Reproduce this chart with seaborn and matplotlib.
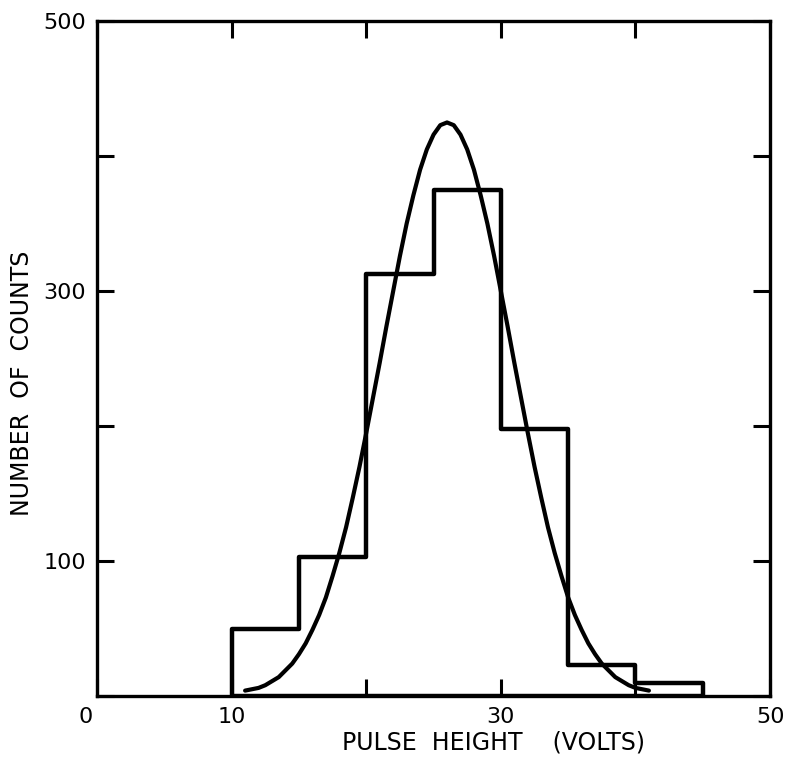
import numpy as np
import pandas as pd
import seaborn as sns
import matplotlib
matplotlib.use("Agg")
import matplotlib.pyplot as plt
import matplotlib.transforms as mtransforms

# histogram of pulse heights (bin centres, counts per 5 V bin)
bin_edges = [10, 15, 20, 25, 30, 35, 40, 45]
bin_centers = [12.5, 17.5, 22.5, 27.5, 32.5, 37.5, 42.5]
counts = [50, 103, 313, 375, 198, 23, 10]

# fitted curve (every half volt)
curve_x = [11, 11.5, 12, 12.5, 13, 13.5, 14, 14.5, 15, 15.5, 16, 16.5, 17, 17.5,
           18, 18.5, 19, 19.5, 20, 20.5, 21, 21.5, 22, 22.5, 23, 23.5, 24, 24.5,
           25, 25.5, 26, 26.5, 27, 27.5, 28, 28.5, 29, 29.5, 30, 30.5, 31, 31.5,
           32, 32.5, 33, 33.5, 34, 34.5, 35, 35.5, 36, 36.5, 37, 37.5, 38, 38.5,
           39, 39.5, 40, 40.5, 41]
curve_y = [4, 5, 6, 8, 11, 14, 19, 24, 31, 39, 49, 60, 73, 89, 106, 125,
           147, 170, 195, 221, 247, 274, 300, 326, 350, 371, 390, 405,
           416, 423, 425, 423, 416, 405, 390, 371, 350, 326, 300, 274, 247, 221,
           195, 170, 147, 125, 106, 89, 73, 60, 49, 39, 31, 24, 19, 14,
           11, 8, 6, 5, 4]

x_ticks = [0, 10, 20, 30, 40, 50]
x_labels = ["0", "10", "", "30", "", "50"]
y_ticks = [0, 100, 200, 300, 400, 500]
y_labels = ["", "100", "", "300", "", "500"]

sns.set_style("ticks")
plt.rcParams["font.family"] = ["DejaVu Sans"]
plt.rcParams["text.color"] = "black"

fig = plt.figure(figsize=(7.89, 7.59), dpi=100)
ax = fig.add_axes([0.123, 0.083, 0.853, 0.889])

hist = pd.DataFrame({"volts": bin_centers, "n": counts})
sns.histplot(data=hist, x="volts", weights="n", bins=bin_edges,
             element="step", fill=True, color="black", linewidth=3.2, ax=ax)
# outline only, closed down to the axis at both ends
for coll in ax.collections:
    coll.set_facecolor("none")
    coll.set_edgecolor("black")
    coll.set_alpha(1)
    coll.set_linewidth(3.2)

fit = pd.DataFrame({"volts": curve_x, "n": curve_y})
sns.lineplot(data=fit, x="volts", y="n", color="black", linewidth=3.0,
             sort=False, ax=ax)

ax.set_xlim(0, 50)
ax.set_ylim(0, 500)
ax.set_xticks(x_ticks)
ax.set_xticklabels(x_labels)
ax.set_yticks(y_ticks)
ax.set_yticklabels(y_labels)
ax.tick_params(direction="in", length=12, width=2.2, top=True, right=True,
               labelsize=16, pad=8, colors="black")
for s in ax.spines.values():
    s.set_linewidth(2.4)
    s.set_color("black")

# the "0" sits a little left of the corner
zero = ax.get_xticklabels()[0]
zero.set_transform(zero.get_transform() +
                   mtransforms.ScaledTranslation(-0.11, 0, fig.dpi_scale_trans))

ax.set_xlabel("")
ax.set_ylabel("")
fig.text(0.625, 0.022, "PULSE  HEIGHT    (VOLTS)", ha="center", va="center",
         fontsize=17, color="black")
fig.text(0.028, 0.495, "NUMBER  OF  COUNTS", ha="center", va="center",
         rotation=90, fontsize=17, color="black")

fig.savefig("out.png", dpi=100, facecolor="white")
